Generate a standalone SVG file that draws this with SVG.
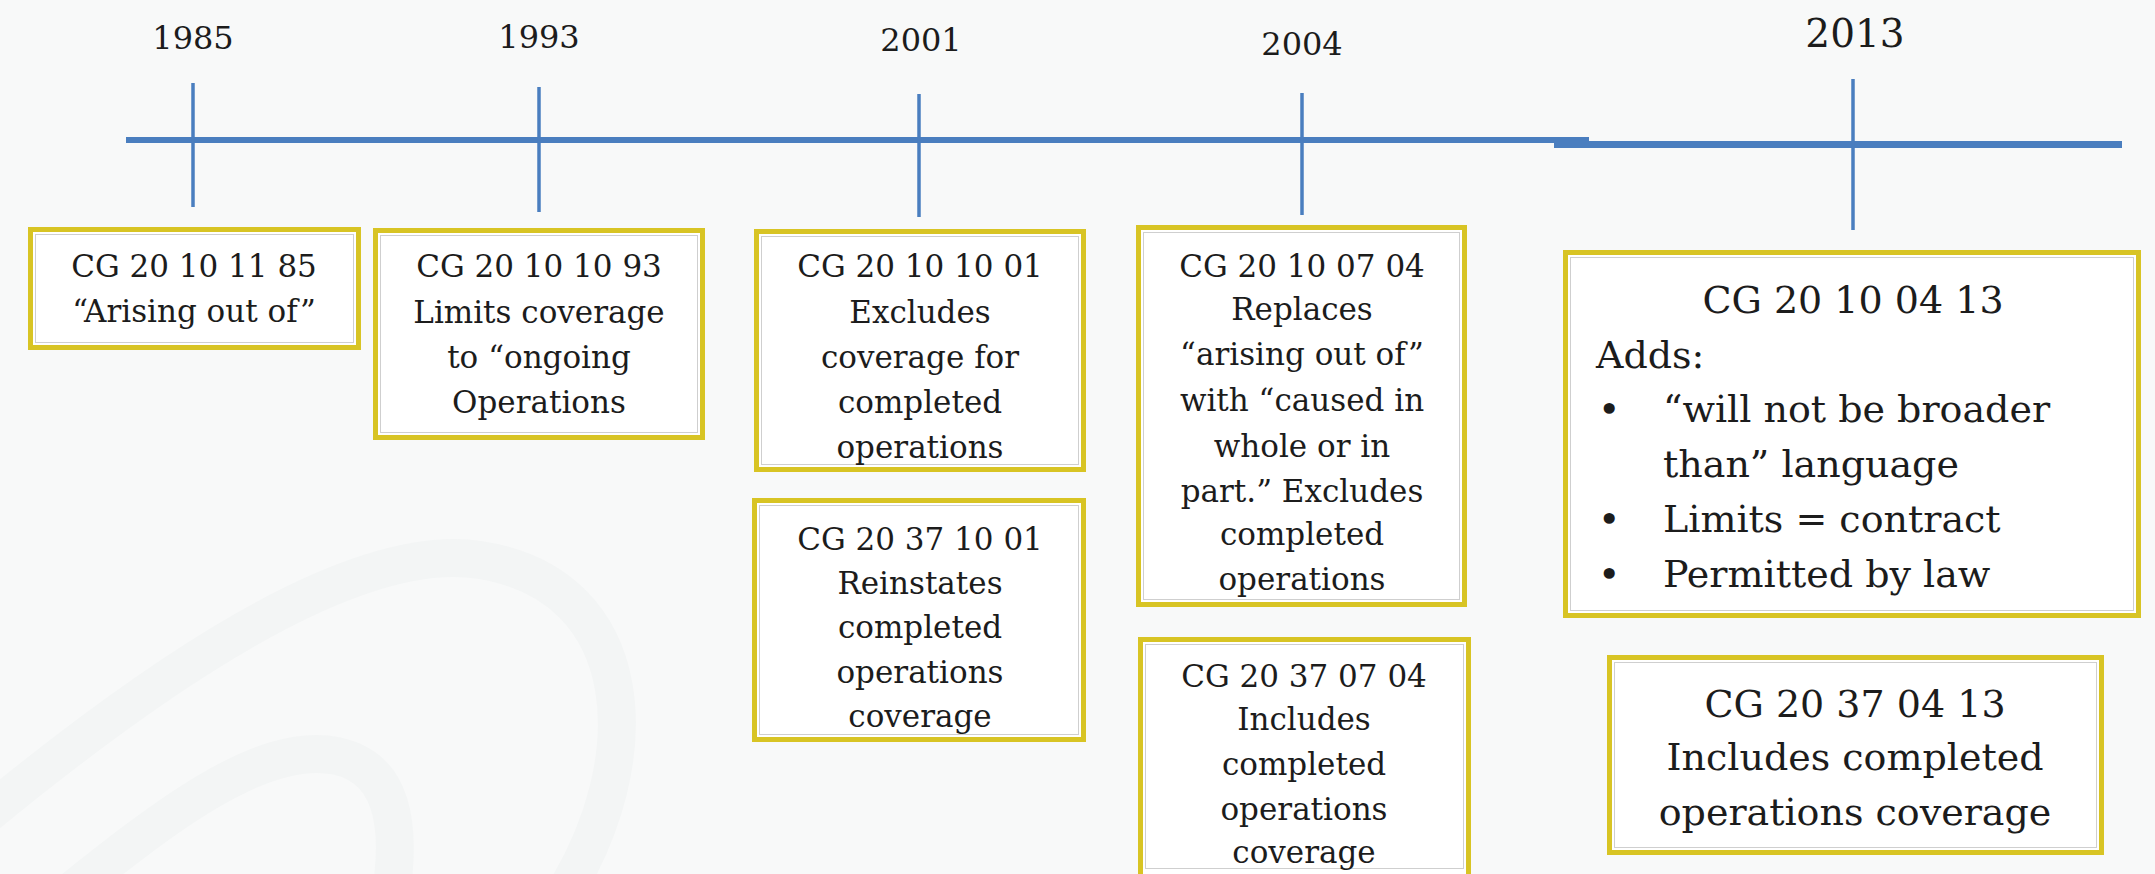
<svg xmlns="http://www.w3.org/2000/svg" width="2155" height="874" viewBox="0 0 2155 874">
<style>
.bg{fill:#f8f9f9}
.swoosh{fill:none;stroke:#f3f5f5;stroke-width:38}
.box{fill:#ffffff;stroke:#d8c424;stroke-width:5}
.inner{fill:none;stroke:#cfcfcf;stroke-width:1}
.axis{stroke:#4a7ebf;fill:none}
.t{font-family:"DejaVu Serif","Liberation Serif",serif;font-size:31px;fill:#1c1c1c;text-anchor:middle}
.tl{font-family:"DejaVu Serif","Liberation Serif",serif;font-size:38px;fill:#1c1c1c}
.tc{font-family:"DejaVu Serif","Liberation Serif",serif;font-size:38px;fill:#1c1c1c;text-anchor:middle}
.yr{font-family:"DejaVu Serif","Liberation Serif",serif;font-size:32px;fill:#1c1c1c;text-anchor:middle}
</style>
<rect class="bg" x="0" y="0" width="2155" height="874"/>
<g id="background-swoosh">
<path class="swoosh" d="M -20 820 C 150 680 350 540 480 560 C 640 585 650 760 560 900"/>
<path class="swoosh" d="M 60 900 C 160 820 260 740 337 756 C 400 770 400 840 390 900"/>
</g>
<g id="connectors">
<line class="axis" x1="126" y1="140" x2="1589" y2="140" stroke-width="6"/>
<line class="axis" x1="1554" y1="144.5" x2="2122" y2="144.5" stroke-width="7"/>
<line class="axis" x1="193" y1="83" x2="193" y2="207" stroke-width="3.5"/>
<line class="axis" x1="539" y1="87" x2="539" y2="212" stroke-width="3.5"/>
<line class="axis" x1="919" y1="94" x2="919" y2="217" stroke-width="3.5"/>
<line class="axis" x1="1302" y1="93" x2="1302" y2="215" stroke-width="3.5"/>
<line class="axis" x1="1853" y1="79" x2="1853" y2="230" stroke-width="3.5"/>
</g>
<g id="years">
<text class="yr" x="193" y="49">1985</text>
<text class="yr" x="539" y="48">1993</text>
<text class="yr" x="921" y="51">2001</text>
<text class="yr" x="1302" y="55">2004</text>
<text class="yr" x="1855" y="47" style="font-size:39px">2013</text>
</g>
<g id="box-1985">
<rect class="box" x="30.5" y="229.5" width="328" height="118"/>
<rect class="inner" x="35.5" y="234.5" width="318" height="108"/>
<text class="t" x="194" y="277">CG 20 10 11 85</text>
<text class="t" x="194" y="322">“Arising out of”</text>
</g>
<g id="box-1993">
<rect class="box" x="375.5" y="230.5" width="327" height="207"/>
<rect class="inner" x="380.5" y="235.5" width="317" height="197"/>
<text class="t" x="539" y="277">CG 20 10 10 93</text>
<text class="t" x="539" y="323">Limits coverage</text>
<text class="t" x="539" y="368">to “ongoing</text>
<text class="t" x="539" y="413">Operations</text>
</g>
<g id="box-2001-a">
<rect class="box" x="756.5" y="231.5" width="327" height="238"/>
<rect class="inner" x="761.5" y="236.5" width="317" height="228"/>
<text class="t" x="920" y="277">CG 20 10 10 01</text>
<text class="t" x="920" y="323">Excludes</text>
<text class="t" x="920" y="368">coverage for</text>
<text class="t" x="920" y="413">completed</text>
<text class="t" x="920" y="458">operations</text>
</g>
<g id="box-2001-b">
<rect class="box" x="754.5" y="500.5" width="329" height="239"/>
<rect class="inner" x="759.5" y="505.5" width="319" height="229"/>
<text class="t" x="920" y="550">CG 20 37 10 01</text>
<text class="t" x="920" y="594">Reinstates</text>
<text class="t" x="920" y="638">completed</text>
<text class="t" x="920" y="683">operations</text>
<text class="t" x="920" y="727">coverage</text>
</g>
<g id="box-2004-a">
<rect class="box" x="1138.5" y="227.5" width="326" height="377"/>
<rect class="inner" x="1143.5" y="232.5" width="316" height="367"/>
<text class="t" x="1302" y="277">CG 20 10 07 04</text>
<text class="t" x="1302" y="320">Replaces</text>
<text class="t" x="1302" y="365">“arising out of”</text>
<text class="t" x="1302" y="411">with “caused in</text>
<text class="t" x="1302" y="457">whole or in</text>
<text class="t" x="1302" y="502">part.” Excludes</text>
<text class="t" x="1302" y="545">completed</text>
<text class="t" x="1302" y="590">operations</text>
</g>
<g id="box-2004-b">
<rect class="box" x="1140.5" y="639.5" width="328" height="250"/>
<rect class="inner" x="1145.5" y="644.5" width="318" height="224"/>
<text class="t" x="1304" y="687">CG 20 37 07 04</text>
<text class="t" x="1304" y="730">Includes</text>
<text class="t" x="1304" y="775">completed</text>
<text class="t" x="1304" y="820">operations</text>
<text class="t" x="1304" y="863">coverage</text>
</g>
<g id="box-2013-a">
<rect class="box" x="1565.5" y="252.5" width="573" height="363"/>
<rect class="inner" x="1570.5" y="257.5" width="563" height="353"/>
<text class="tc" x="1853" y="313">CG 20 10 04 13</text>
<text class="tl" x="1596" y="368">Adds:</text>
<text class="tl" x="1598" y="422">•</text>
<text class="tl" x="1663" y="422">“will not be broader</text>
<text class="tl" x="1663" y="477">than” language</text>
<text class="tl" x="1598" y="532">•</text>
<text class="tl" x="1663" y="532">Limits = contract</text>
<text class="tl" x="1598" y="587">•</text>
<text class="tl" x="1663" y="587">Permitted by law</text>
</g>
<g id="box-2013-b">
<rect class="box" x="1609.5" y="657.5" width="492" height="195"/>
<rect class="inner" x="1614.5" y="662.5" width="482" height="185"/>
<text class="tc" x="1855" y="717">CG 20 37 04 13</text>
<text class="tc" x="1855" y="770">Includes completed</text>
<text class="tc" x="1855" y="825">operations coverage</text>
</g>
</svg>
